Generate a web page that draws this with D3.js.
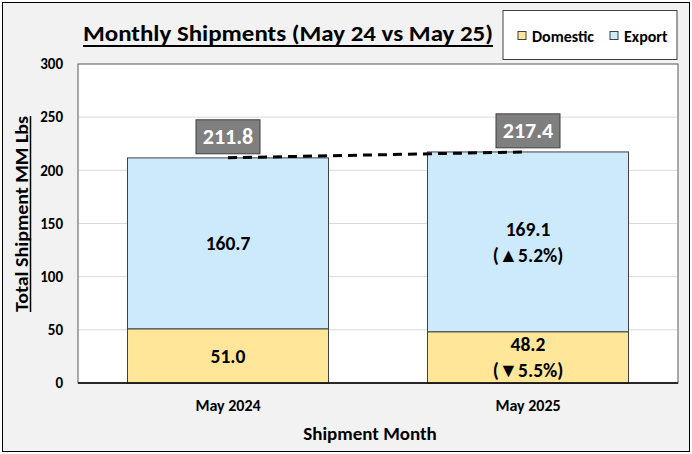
<!DOCTYPE html>
<html><head><meta charset="utf-8">
<script src="https://cdn.jsdelivr.net/npm/d3@7"></script>
<style>body{margin:0;background:#fff}svg{display:block}text{font-family:Carlito,Lato,"Open Sans",sans-serif;font-weight:bold}</style>
</head><body><svg id="c" width="692" height="454"></svg>
<script>
const months = ["May 2024", "May 2025"];
const domestic = [51.0, 48.2];
const exportVals = [160.7, 169.1];
const totals = [211.8, 217.4];
const domesticLabels = [["51.0"], ["48.2", "(▼5.5%)"]];
const exportLabels = [["160.7"], ["169.1", "(▲5.2%)"]];
const yTicks = [0, 50, 100, 150, 200, 250, 300];
const seriesNames = ["Domestic", "Export"];
const colors = {Domestic: "#ffe699", Export: "#cdeafd"};

const FF = "Carlito,Lato,sans-serif";
const svg = d3.select("#c");
svg.append("rect").attr("x", 2.5).attr("y", 2.5).attr("width", 687).attr("height", 449)
  .attr("fill", "#f2f2f2").attr("stroke", "#000").attr("stroke-width", 1);

const m = {l: 78, r: 678, t: 64, b: 383};
const x = d3.scaleBand().domain(months).range([m.l, m.r]).paddingInner(0.33).paddingOuter(0.165);
const y = d3.scaleLinear().domain([0, 300]).range([m.b, m.t]);

svg.append("rect").attr("x", m.l).attr("y", m.t).attr("width", m.r - m.l).attr("height", m.b - m.t)
  .attr("fill", "#fff").attr("stroke", "#595959").attr("stroke-width", 1);

// gridlines
svg.append("g").selectAll("line").data(yTicks.filter(t => t > 0 && t < 300)).join("line")
  .attr("x1", m.l + 1).attr("x2", m.r - 1).attr("y1", d => y(d)).attr("y2", d => y(d))
  .attr("stroke", "#d9d9d9").attr("stroke-width", 1);

// y axis
const ya = svg.append("g").attr("transform", `translate(${m.l},0)`)
  .call(d3.axisLeft(y).tickValues(yTicks).tickSize(0).tickPadding(15));
ya.select(".domain").remove();
ya.selectAll("text").style("font-size", "15px").attr("fill", "#000").style("font-family", FF).style("font-weight", "bold");

// x axis
const xa = svg.append("g").attr("transform", `translate(0,${m.b})`)
  .call(d3.axisBottom(x).tickSize(0).tickPadding(17));
xa.select(".domain").remove();
xa.selectAll("text").style("font-size", "16px").attr("fill", "#000").style("font-family", FF).style("font-weight", "bold");

// stacked bars
const rows = months.map((mo, i) => ({month: mo, Domestic: domestic[i], Export: exportVals[i]}));
const stack = d3.stack().keys(seriesNames)(rows);
svg.append("g").selectAll("g").data(stack).join("g").attr("fill", d => colors[d.key])
  .selectAll("rect").data(d => d).join("rect")
  .attr("x", d => x(d.data.month)).attr("width", x.bandwidth())
  .attr("y", d => y(d[1])).attr("height", d => y(d[0]) - y(d[1]))
  .attr("stroke", "#404040").attr("stroke-width", 1);

// baseline
svg.append("line").attr("x1", m.l).attr("x2", m.r).attr("y1", m.b).attr("y2", m.b).attr("stroke", "#000").attr("stroke-width", 1.5);

// segment labels
function segLabels(lines, lo, hi, i) {
  const cx = x(months[i]) + x.bandwidth() / 2;
  const cy = (y(lo) + y(hi)) / 2;
  const lh = 26;
  lines.forEach((t, k) => {
    svg.append("text").attr("x", cx).attr("y", cy + (k - (lines.length - 1) / 2) * lh)
      .attr("text-anchor", "middle").attr("dominant-baseline", "central")
      .style("font-size", "19.5px").attr("fill", "#000").text(t);
  });
}
months.forEach((mo, i) => {
  segLabels(domesticLabels[i], 0, domestic[i], i);
  segLabels(exportLabels[i], domestic[i], domestic[i] + exportVals[i], i);
});

// dashed total line
svg.append("path").datum(months.map((mo, i) => [x(mo) + x.bandwidth() / 2, y(totals[i])]))
  .attr("d", d3.line()).attr("fill", "none").attr("stroke", "#000").attr("stroke-width", 3)
  .attr("stroke-dasharray", "9,6");

// total labels
months.forEach((mo, i) => {
  const cx = x(mo) + x.bandwidth() / 2;
  const by = y(totals[i]) - 4;
  svg.append("rect").attr("x", cx - 32).attr("y", by - 34).attr("width", 64).attr("height", 34)
    .attr("fill", "#7f7f7f").attr("stroke", "#404040").attr("stroke-width", 1);
  svg.append("text").attr("x", cx).attr("y", by - 17).attr("text-anchor", "middle")
    .attr("dominant-baseline", "central").style("font-size", "22px").attr("fill", "#fff").text(totals[i].toFixed(1));
});

// title
const title = svg.append("text").attr("x", 288).attr("y", 41).attr("text-anchor", "middle")
  .style("font-size", "23px").attr("fill", "#000").text("Monthly Shipments (May 24 vs May 25)");
title.attr("textLength", 410).attr("lengthAdjust", "spacingAndGlyphs");
svg.append("line").attr("x1", 83).attr("x2", 493).attr("y1", 46).attr("y2", 46).attr("stroke", "#000").attr("stroke-width", 2);

// y title
const yt = svg.append("text").attr("transform", "translate(28,214) rotate(-90)").attr("text-anchor", "middle")
  .style("font-size", "17px").attr("fill", "#000").text("Total Shipment MM Lbs");
yt.attr("textLength", 196).attr("lengthAdjust", "spacingAndGlyphs");
svg.append("line").attr("x1", 30.5).attr("x2", 30.5).attr("y1", 116).attr("y2", 312).attr("stroke", "#000").attr("stroke-width", 1.5);

// x title
svg.append("text").attr("x", 370).attr("y", 433).attr("text-anchor", "middle").attr("dominant-baseline", "central")
  .style("font-size", "19px").attr("fill", "#000").text("Shipment Month");

// legend
svg.append("rect").attr("x", 503).attr("y", 10.5).attr("width", 174).attr("height", 49)
  .attr("fill", "#fff").attr("stroke", "#404040").attr("stroke-width", 1);
const legX = [518, 610];
seriesNames.forEach((s, i) => {
  svg.append("rect").attr("x", legX[i]).attr("y", 31.5).attr("width", 8).attr("height", 8)
    .attr("fill", colors[s]).attr("stroke", "#404040").attr("stroke-width", 1);
  svg.append("text").attr("x", legX[i] + 14).attr("y", 36).attr("dominant-baseline", "central")
    .style("font-size", "16px").attr("fill", "#000").text(s);
});
</script></body></html>
